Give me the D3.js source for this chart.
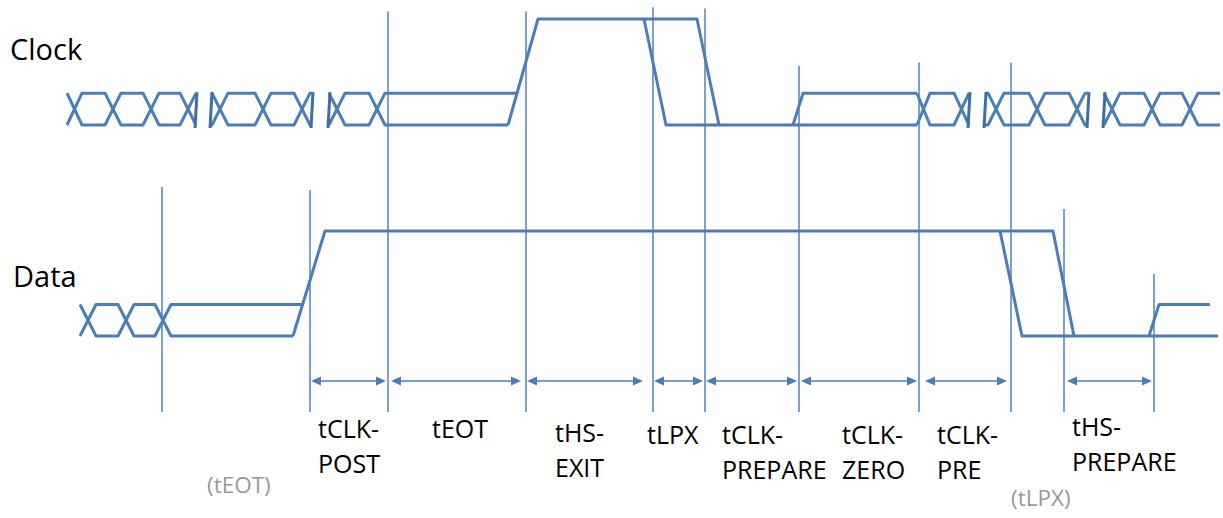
<!DOCTYPE html>
<html>
  <head>
    <meta charset="utf-8" />
    <script src="https://d3js.org/d3.v7.min.js"></script>
    <style>
      body { margin: 0; background: #fff; }
      .wave { fill: none; stroke: #4a7ebb; stroke-width: 3px; stroke-linejoin: round; }
      .bar { stroke: #3f6ea6; stroke-width: 3px; }
      .marker { stroke: #5a8ac6; stroke-width: 1.6px; }
      .span { stroke: #4a7ebb; stroke-width: 1.6px; }
      .lane { font-family: "Open Sans", sans-serif; font-size: 29px; fill: #000; }
      .label { font-family: "Open Sans", sans-serif; font-size: 25px; fill: #000; }
      .note { font-family: "Open Sans", sans-serif; font-size: 22.5px; fill: #999; }
    </style>
  </head>
  <body>
    <svg id="chart" width="1223" height="518"></svg>

    <script>
      // time axis is in arbitrary units, levels: 0 = low, 0.3 = LP mid, 1 = high
      var lanes = ["Clock", "Data"];

      var clockBus = [
        { from: 67, to: 196, crosses: [74, 113, 151, 188], bars: [196] },
        { from: 211, to: 312, crosses: [220, 263, 302], bars: [211, 312] },
        { from: 329, to: 508, crosses: [337, 377], bars: [329] },
        { from: 917, to: 969, crosses: [922, 962], bars: [969] },
        { from: 985, to: 1088, crosses: [996, 1037, 1077], bars: [985, 1088] },
        { from: 1104, to: 1220, crosses: [1112, 1152, 1190], bars: [1104] }
      ];
      var clockLines = [
        [[508, 0.3], [517, 0.3]],
        [[508, 0], [538, 1], [697, 1], [719, 0]],
        [[644, 1], [666, 0], [917, 0]],
        [[793, 0], [803, 0.3], [917, 0.3]]
      ];

      var dataBus = [
        { from: 80, to: 293, crosses: [88, 126, 163], bars: [] }
      ];
      var dataLines = [
        [[293, 0.3], [302, 0.3]],
        [[293, 0], [325, 1], [1053, 1], [1074, 0]],
        [[1000, 1], [1022, 0], [1218, 0]],
        [[1149, 0], [1159, 0.3], [1210, 0.3]]
      ];

      // vertical timing markers: time, lane they start in, level of their top end
      var markerT = [162, 310, 388, 526, 653, 705, 799, 919, 1011, 1064, 1154];
      var markerLane = ["Data", "Data", "Clock", "Clock", "Clock", "Clock", "Clock", "Clock", "Clock", "Data", "Data"];
      var markerTop = [1.42, 1.39, 1.07, 1.07, 1.11, 1.1, 0.56, 0.59, 0.59, 1.21, 0.59];

      var spanFrom = [311, 391, 527, 654, 706, 801, 925, 1067];
      var spanTo = [386, 521, 643, 703, 797, 917, 1007, 1152];
      var labelText = [
        ["tCLK-", "POST"], ["tEOT"], ["tHS-", "EXIT"], ["tLPX"],
        ["tCLK-", "PREPARE"], ["tCLK-", "ZERO"], ["tCLK-", "PRE"], ["tHS-", "PREPARE"]
      ];
      var labelAt = [318, 432, 555, 647, 722, 842, 937, 1072];
      var labelBase = [438, 438, 442, 444, 444, 444, 444, 436];

      var notes = ["(tEOT)", "(tLPX)"];
      var noteAt = [207, 1011];
      var noteBase = [493, 506];

      var svg = d3.select("#chart");

      var x = d3.scaleLinear().domain([0, 1223]).range([0, 1223]);
      var y = {
        Clock: d3.scaleLinear().domain([0, 1]).range([125, 19]),
        Data: d3.scaleLinear().domain([0, 1]).range([336, 231])
      };
      var laneBase = { Clock: 60, Data: 287 };
      var laneX = { Clock: 10, Data: 13 };
      var markerBottom = 412;
      var spanY = 381;

      // markers first so the waveform draws over them
      svg.selectAll(".marker")
        .data(markerT)
        .enter().append("line")
        .attr("class", "marker")
        .attr("x1", function(d) { return x(d); })
        .attr("x2", function(d) { return x(d); })
        .attr("y1", function(d, i) { return y[markerLane[i]](markerTop[i]); })
        .attr("y2", markerBottom);

      var line = function(lane) {
        return d3.line()
          .x(function(d) { return x(d[0]); })
          .y(function(d) { return y[lane](d[1]); });
      };

      // turn a differential bus group into its two crossing polylines
      function busPaths(g) {
        var hw = 8;
        var a = [[g.from, 0.3]], b = [[g.from, 0]];
        var ca = 0.3, cb = 0;
        g.crosses.forEach(function(c) {
          var l = Math.max(g.from, c - hw), r = Math.min(g.to, c + hw);
          a.push([l, ca]); b.push([l, cb]);
          var t = ca; ca = cb; cb = t;
          a.push([r, ca]); b.push([r, cb]);
        });
        a.push([g.to, ca]); b.push([g.to, cb]);
        return [a, b];
      }

      function drawLane(lane, bus, lines) {
        var gen = line(lane);
        var paths = [];
        bus.forEach(function(g) { paths = paths.concat(busPaths(g)); });
        paths = paths.concat(lines);

        svg.selectAll(".wave-" + lane)
          .data(paths)
          .enter().append("path")
          .attr("class", "wave wave-" + lane)
          .attr("d", gen);

        var bars = [];
        bus.forEach(function(g) { bars = bars.concat(g.bars); });
        svg.selectAll(".bar-" + lane)
          .data(bars)
          .enter().append("line")
          .attr("class", "bar bar-" + lane)
          .attr("x1", function(d) { return x(d) + 1; })
          .attr("x2", function(d) { return x(d) - 1; })
          .attr("y1", y[lane](0.3) - 1)
          .attr("y2", y[lane](0) + 3);

        svg.append("text")
          .attr("class", "lane")
          .attr("x", laneX[lane])
          .attr("y", laneBase[lane])
          .text(lane);
      }

      drawLane("Clock", clockBus, clockLines);
      drawLane("Data", dataBus, dataLines);

      // double headed span arrows
      var head = 10, half = 4.5;
      var spans = svg.selectAll(".spang")
        .data(spanFrom)
        .enter().append("g")
        .attr("class", "spang");

      spans.append("line")
        .attr("class", "span")
        .attr("x1", function(d) { return x(d) + 4; })
        .attr("x2", function(d, i) { return x(spanTo[i]) - 4; })
        .attr("y1", spanY)
        .attr("y2", spanY);

      spans.append("path")
        .attr("fill", "#4a7ebb")
        .attr("d", function(d, i) {
          var l = x(d), r = x(spanTo[i]);
          return "M" + l + "," + spanY + "L" + (l + head) + "," + (spanY - half) + "L" + (l + head) + "," + (spanY + half) + "Z" +
            "M" + r + "," + spanY + "L" + (r - head) + "," + (spanY - half) + "L" + (r - head) + "," + (spanY + half) + "Z";
        });

      var labels = svg.selectAll(".label")
        .data(labelText)
        .enter().append("text")
        .attr("class", "label")
        .attr("x", function(d, i) { return x(labelAt[i]); })
        .attr("y", function(d, i) { return labelBase[i]; });

      labels.each(function(d, i) {
        var t = d3.select(this);
        d.forEach(function(s, k) {
          t.append("tspan")
            .attr("x", x(labelAt[i]))
            .attr("y", labelBase[i] + k * 35)
            .text(s);
        });
      });

      svg.selectAll(".note")
        .data(notes)
        .enter().append("text")
        .attr("class", "note")
        .attr("x", function(d, i) { return x(noteAt[i]); })
        .attr("y", function(d, i) { return noteBase[i]; })
        .text(function(d) { return d; });
    </script>
  </body>
</html>
